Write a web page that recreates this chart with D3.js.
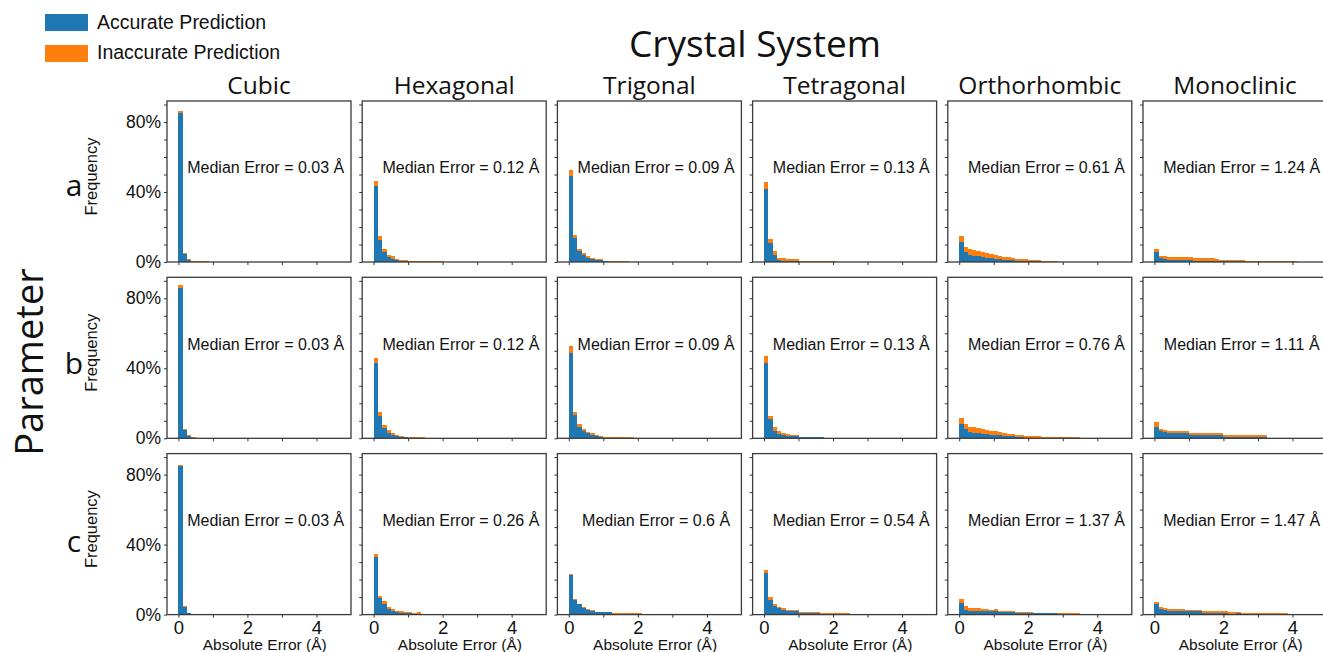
<!DOCTYPE html>
<html>
<head>
<meta charset="utf-8">
<script src="https://cdn.jsdelivr.net/npm/d3@7"></script>
<style>
  body { margin: 0; background: #fff; overflow: hidden; }
  svg { display: block; }
</style>
</head>
<body>
<svg id="chart" width="1323" height="652"></svg>
<script>
// categories
const systems = ["Cubic", "Hexagonal", "Trigonal", "Tetragonal", "Orthorhombic", "Monoclinic"];
const params = ["a", "b", "c"];
const legendLabels = ["Accurate Prediction", "Inaccurate Prediction"];

// median error per panel (Å)
const medianA = ["0.03", "0.12", "0.09", "0.13", "0.61", "1.24"];
const medianB = ["0.03", "0.12", "0.09", "0.13", "0.76", "1.11"];
const medianC = ["0.03", "0.26", "0.6", "0.54", "1.37", "1.47"];

// histogram bins start at 0, width in Å
const binWidth = 0.125;

// frequency (%) per bin, one list per crystal system — parameter a
const accurateA = [
  [85, 4.6, 1.0, 0.1, 0.1, 0.05, 0.05],
  [43.2, 12.6, 6.0, 3.0, 2.0, 1.0, 0.6, 0.4, 0.2, 0.2, 0.1, 0.1, 0.1, 0.05, 0.05, 0.05],
  [49, 13.7, 6.3, 4.0, 2.5, 1.7, 1.0, 0.9, 0.3, 0.2, 0.1, 0.1, 0.1, 0.1],
  [41.5, 10.8, 4.0, 1.2, 0.8, 0.4, 0.4, 0.4, 0.1, 0.1, 0.1, 0.1, 0.1, 0.1, 0.1, 0.1, 0.1],
  [11.4, 5.6, 4.2, 3.5, 3.2, 2.8, 2.5, 2.3, 2.0, 1.5, 1.3, 1.2, 0.9, 0.8, 0.7, 0.5, 0.3, 0.3, 0.3, 0.1, 0.1, 0.1, 0.1],
  [5.8, 2.3, 1.7, 1.3, 1.3, 1.3, 1.3, 1.3, 1.3, 0.8, 0.8, 0.8, 0.8, 0.8, 0.6, 0.4, 0.4, 0.4, 0.4, 0.4, 0.4, 0.2, 0.2,
   0.05, 0.05, 0.05, 0.05, 0.05, 0.05, 0.05, 0.05, 0.05, 0.05]
];
const inaccurateA = [
  [1.3, 0.6, 0.5, 0.3, 0.3, 0.3, 0.3],
  [2.9, 2.2, 1.5, 1.2, 1.2, 1.0, 0.8, 0.8, 0.6, 0.6, 0.5, 0.5, 0.5, 0.4, 0.4, 0.4],
  [3.4, 1.5, 1.4, 1.0, 1.0, 0.8, 0.6, 0.6, 0.5, 0.4, 0.4, 0.4, 0.4, 0.4],
  [4.0, 2.1, 2.3, 1.3, 1.3, 1.1, 1.1, 1.1, 0.5, 0.5, 0.5, 0.5, 0.5, 0.5, 0.5, 0.5, 0.5],
  [3.2, 3.1, 3.3, 3.3, 3.3, 2.8, 2.7, 2.5, 2.2, 2.0, 1.7, 1.6, 1.3, 1.2, 1.3, 1.3, 0.7, 0.7, 0.7, 0.4, 0.4, 0.4, 0.4],
  [1.7, 1.4, 1.6, 1.4, 1.4, 1.4, 1.4, 1.4, 1.4, 1.3, 1.3, 1.3, 1.3, 1.3, 1.1, 0.8, 0.8, 0.8, 0.8, 0.8, 0.8, 0.4, 0.4,
   0.25, 0.25, 0.25, 0.25, 0.25, 0.25, 0.25, 0.25, 0.25, 0.25]
];

// parameter b
const accurateB = [
  [85.8, 5.0, 1.2, 0.3],
  [43, 12.9, 6.0, 3.1, 2.0, 1.2, 0.7, 0.5, 0.4, 0.3, 0.2, 0.2, 0.1, 0.1, 0.05, 0.05, 0.05, 0.05, 0.05, 0.05, 0.05],
  [49, 13.5, 6.5, 4.4, 2.8, 2.0, 1.2, 0.6, 0.4, 0.2, 0.1, 0.1, 0.1, 0.1, 0.1, 0.05, 0.05],
  [43, 10.8, 4.2, 2.7, 1.9, 1.5, 1.1, 1.1, 0.6, 0.6, 0.6, 0.6, 0.6, 0.6, 0.1, 0.1, 0.1, 0.1, 0.1, 0.1, 0.1],
  [8.4, 5.4, 3.8, 3.3, 3.0, 2.6, 2.3, 2.1, 1.8, 1.6, 1.3, 1.2, 1.2, 0.6, 0.6, 0.4, 0.4, 0.4, 0.4, 0.2, 0.2,
   0.1, 0.1, 0.1, 0.1, 0.1, 0.1, 0.1, 0.05, 0.05, 0.05, 0.05],
  [6.5, 4.0, 3.5, 2.9, 2.9, 2.9, 2.9, 2.9, 1.9, 1.9, 1.9, 1.9, 1.9, 1.9, 1.9, 1.9,
   0.7, 0.7, 0.7, 0.7, 0.7, 0.7, 0.7, 0.7, 0.7, 0.7, 0.05, 0.05, 0.05, 0.05, 0.05, 0.05, 0.05, 0.05, 0.05, 0.05, 0.05, 0.05, 0.05, 0.05]
];
const inaccurateB = [
  [1.7, 0.4, 0.4, 0.4, 0.15, 0.15, 0.15, 0.15, 0.15, 0.15, 0.15, 0.15, 0.15, 0.15, 0.15, 0.15, 0.15, 0.15, 0.15, 0.15,
   0.15, 0.15, 0.15, 0.15, 0.15, 0.15, 0.15, 0.15, 0.15, 0.15, 0.15, 0.15, 0.15, 0.15, 0.15, 0.15, 0.15, 0.15, 0.15, 0.15],
  [3.0, 2.3, 1.5, 1.4, 1.2, 0.8, 0.6, 0.5, 0.4, 0.4, 0.4, 0.4, 0.2, 0.2, 0.2, 0.2, 0.2, 0.2, 0.2, 0.2, 0.2,
   0.15, 0.15, 0.15, 0.15, 0.15, 0.15, 0.15, 0.15, 0.15, 0.15, 0.15, 0.15, 0.15, 0.15, 0.15, 0.15, 0.15, 0.15, 0.15],
  [3.5, 1.8, 1.4, 1.0, 1.0, 0.9, 0.7, 0.8, 0.6, 0.5, 0.4, 0.4, 0.4, 0.4, 0.4, 0.4, 0.4, 0.15, 0.4, 0.15,
   0.15, 0.15, 0.15, 0.15, 0.15, 0.15, 0.15, 0.15, 0.15, 0.15, 0.15, 0.15, 0.15, 0.15, 0.15, 0.15, 0.15, 0.15, 0.15, 0.15],
  [4.0, 1.9, 2.1, 1.3, 1.2, 1.2, 0.8, 0.8, 0.4, 0.4, 0.4, 0.4, 0.4, 0.4, 0.3, 0.3, 0.3, 0.3, 0.3, 0.3, 0.3,
   0.15, 0.15, 0.15, 0.15, 0.15, 0.15, 0.15, 0.15, 0.15, 0.15, 0.15, 0.15, 0.15, 0.15, 0.15, 0.15, 0.15, 0.15, 0.15],
  [3.3, 2.5, 2.7, 2.9, 2.8, 2.6, 2.5, 2.1, 2.1, 1.9, 1.8, 1.5, 1.3, 1.2, 1.2, 0.9, 0.9, 0.9, 0.9, 0.7, 0.7,
   0.4, 0.4, 0.4, 0.4, 0.4, 0.4, 0.4, 0.25, 0.25, 0.25, 0.25, 0.15, 0.15, 0.15, 0.15, 0.15, 0.15, 0.15, 0.15],
  [2.7, 1.5, 1.5, 1.3, 1.3, 1.3, 1.3, 1.3, 1.3, 1.3, 1.3, 1.3, 1.3, 1.3, 1.3, 1.3,
   0.9, 0.9, 0.9, 0.9, 0.9, 0.9, 0.9, 0.9, 0.9, 0.9, 0.2, 0.2, 0.2, 0.2, 0.2, 0.2, 0.2, 0.2, 0.2, 0.2, 0.2, 0.2, 0.2, 0.2]
];

// parameter c
const accurateC = [
  [84.8, 4.4, 0.8, 0.05, 0.05],
  [33, 9.5, 6.0, 3.0, 2.0, 1.5, 1.1, 0.8, 0.8, 0.6, 0.4, 0.3, 0.2, 0.2, 0.2, 0.2, 0.2, 0.2],
  [22.5, 8.6, 6.0, 3.6, 2.5, 1.9, 1.3, 1.3, 1.3, 1.3, 0.4, 0.4, 0.4, 0.4, 0.4, 0.4, 0.4],
  [24, 8.6, 5.2, 3.6, 2.9, 1.9, 1.9, 1.9, 1.0, 1.0, 1.0, 1.0, 1.0, 0.6, 0.6, 0.6, 0.6, 0.6, 0.6, 0.6],
  [6.5, 2.7, 2.3, 2.1, 2.1, 1.9, 1.9, 1.9, 1.9, 1.3, 1.3, 1.3, 1.3, 1.1, 1.1, 1.1, 1.1,
   0.8, 0.8, 0.8, 0.8, 0.8, 0.8, 0.5, 0.5, 0.5, 0.5, 0.5, 0.05, 0.05, 0.05, 0.05, 0.05, 0.05, 0.05, 0.05, 0.05, 0.05, 0.05, 0.05],
  [5.8, 3.3, 2.7, 2.2, 2.2, 2.2, 2.2, 1.9, 1.9, 1.9, 1.9, 1.0, 1.0, 1.0, 1.0, 1.0, 1.0, 0.6, 0.6, 0.8,
   0.2, 0.2, 0.2, 0.2, 0.2, 0.2, 0.2, 0.2, 0.2, 0.2, 0.2, 0.05, 0.05, 0.05, 0.05, 0.05, 0.05, 0.05, 0.05, 0.05]
];
const inaccurateC = [
  [0.6, 0.4, 0.3, 0.4, 0.4, 0.15, 0.5, 0.15, 0.15, 0.15, 0.15, 0.15, 0.15, 0.15, 0.15, 0.15, 0.15, 0.15, 0.15, 0.15,
   0.15, 0.15, 0.15, 0.15, 0.15, 0.15, 0.15, 0.15, 0.15, 0.15, 0.15, 0.15, 0.15, 0.15, 0.15, 0.15, 0.15, 0.15, 0.15, 0.15],
  [1.5, 1.1, 1.8, 1.2, 1.0, 0.8, 0.7, 0.6, 0.5, 0.4, 0.9, 0.3, 0.2, 0.2, 0.2, 0.2, 0.2, 0.2,
   0.15, 0.15, 0.15, 0.15, 0.15, 0.15, 0.15, 0.15, 0.15, 0.15, 0.15, 0.15, 0.15, 0.15, 0.15, 0.15, 0.15, 0.15, 0.15, 0.15, 0.15, 0.15],
  [0.5, 0.6, 0.3, 0.6, 0.8, 0.6, 0.2, 0.2, 0.2, 0.2, 0.4, 0.4, 0.4, 0.4, 0.4, 0.4, 0.4, 0.15, 0.6, 0.15,
   0.15, 0.15, 0.15, 0.15, 0.15, 0.15, 0.15, 0.15, 0.15, 0.15, 0.15, 0.15, 0.15, 0.15, 0.15, 0.15, 0.15, 0.15, 0.15, 0.15],
  [1.3, 1.2, 0.8, 1.0, 0.7, 1.0, 1.0, 1.0, 0.5, 0.5, 0.5, 0.5, 0.5, 0.2, 0.2, 0.2, 0.2, 0.2, 0.2, 0.2,
   0.15, 0.6, 0.15, 0.15, 0.15, 0.15, 0.15, 0.15, 0.15, 0.15, 0.15, 0.15, 0.15, 0.15, 0.15, 0.15, 0.15, 0.15, 0.15, 0.15],
  [2.3, 2.5, 1.5, 1.4, 1.4, 1.2, 1.2, 0.8, 1.2, 1.0, 1.0, 1.0, 1.0, 0.6, 0.6, 0.6, 0.6,
   0.3, 0.3, 0.3, 0.3, 0.3, 0.3, 0.5, 0.5, 0.5, 0.5, 0.5, 0.15, 0.15, 0.15, 0.15, 0.15, 0.15, 0.15, 0.15, 0.15, 0.15, 0.15, 0.15],
  [1.3, 0.9, 1.1, 1.0, 1.0, 1.0, 1.0, 1.0, 1.0, 1.0, 1.0, 1.2, 1.2, 1.2, 1.2, 1.2, 1.2, 0.7, 0.7, 0.5,
   0.6, 0.6, 0.6, 0.6, 0.6, 0.6, 0.6, 0.6, 0.6, 0.6, 0.6, 0.15, 0.15, 0.15, 0.15, 0.15, 0.15, 0.15, 0.15, 0.15]
];

// tick values / labels
const yTickValues = [0, 0.1, 0.2, 0.3, 0.4, 0.5, 0.6, 0.7, 0.8, 0.9];
const yTickLabels = [0, 0.4, 0.8];
const xTickValues = [0, 1, 2, 3, 4];
const xTickLabels = [0, 2, 4];

const accurate = [accurateA, accurateB, accurateC];
const inaccurate = [inaccurateA, inaccurateB, inaccurateC];
const medians = [medianA, medianB, medianC];

const blue = '#1f77b4';
const orange = '#ff7f0e';
const sansFont = '"Liberation Sans", Arial, sans-serif';
const titleFont = '"Open Sans", sans-serif';

const panelW = 184, panelH = 161;
const left0 = 167, top0 = 101, stepX = 195.2, stepY = 176.3;

const svg = d3.select('#chart');

const x = d3.scaleLinear().domain([-0.33, 5]).range([0, panelW]);
const y = d3.scaleLinear().domain([0, 0.92]).range([panelH, 0]);

params.forEach((p, r) => {
  systems.forEach((sys, c) => {
    const g = svg.append('g')
      .attr('transform', `translate(${left0 + c * stepX},${top0 + r * stepY})`);

    const acc = accurate[r][c];
    const ina = inaccurate[r][c];
    const bins = d3.range(Math.max(acc.length, ina.length)).map(i => ({
      x0: i * binWidth,
      acc: (acc[i] || 0) / 100,
      ina: (ina[i] || 0) / 100
    }));

    g.selectAll('.acc')
      .data(bins)
      .enter()
      .append('rect')
        .attr('class', 'acc')
        .attr('x', d => x(d.x0))
        .attr('width', x(binWidth) - x(0))
        .attr('y', d => y(d.acc))
        .attr('height', d => panelH - y(d.acc))
        .attr('fill', blue)
        .attr('shape-rendering', 'crispEdges');

    g.selectAll('.ina')
      .data(bins)
      .enter()
      .append('rect')
        .attr('class', 'ina')
        .attr('x', d => x(d.x0))
        .attr('width', x(binWidth) - x(0))
        .attr('y', d => y(d.acc + d.ina))
        .attr('height', d => y(d.acc) - y(d.acc + d.ina))
        .attr('fill', orange)
        .attr('shape-rendering', 'crispEdges');

    // y axis
    const yAxis = g.append('g')
      .call(d3.axisLeft(y)
        .tickValues(yTickValues)
        .tickSize(3)
        .tickPadding(3)
        .tickFormat(d => (c === 0 && yTickLabels.some(t => Math.abs(t - d) < 1e-9)) ? d3.format('.0%')(d) : ''));
    yAxis.select('.domain').remove();
    yAxis.selectAll('line').attr('stroke', '#333');
    yAxis.selectAll('text')
      .style('font-family', sansFont)
      .style('font-size', '17.5px')
      .attr('fill', '#111');

    // x axis
    const xAxis = g.append('g')
      .attr('transform', `translate(0,${panelH})`)
      .call(d3.axisBottom(x)
        .tickValues(xTickValues)
        .tickSize(3)
        .tickPadding(3)
        .tickFormat(d => (r === 2 && xTickLabels.includes(d)) ? d : ''));
    xAxis.select('.domain').remove();
    xAxis.selectAll('line').attr('stroke', '#333');
    xAxis.selectAll('text')
      .style('font-family', sansFont)
      .style('font-size', '18.5px')
      .attr('fill', '#111');

    // frame
    g.append('rect')
      .attr('width', panelW)
      .attr('height', panelH)
      .attr('fill', 'none')
      .attr('stroke', '#3a3a3a')
      .attr('stroke-width', 1.3);

    g.append('text')
      .attr('x', x(2.5) + 1)
      .attr('y', y(0.507))
      .attr('text-anchor', 'middle')
      .style('font-family', sansFont)
      .style('font-size', '16px')
      .attr('fill', '#111')
      .text(`Median Error = ${medians[r][c]} Å`);

    if (r === 2) {
      g.append('text')
        .attr('x', x(2.5))
        .attr('y', panelH + 35)
        .attr('text-anchor', 'middle')
        .style('font-family', sansFont)
        .style('font-size', '15.5px')
        .attr('fill', '#111')
        .text('Absolute Error (Å)');
    }

    if (r === 0) {
      g.append('text')
        .attr('x', panelW / 2)
        .attr('y', -7)
        .attr('text-anchor', 'middle')
        .style('font-family', titleFont)
        .style('font-size', '24.5px')
        .attr('fill', '#111')
        .text(sys);
    }
  });

  const cy = top0 + r * stepY + panelH / 2;

  svg.append('text')
    .attr('x', 74)
    .attr('y', cy + 14 + r * 2)
    .attr('text-anchor', 'middle')
    .style('font-family', titleFont)
    .style('font-size', '30px')
    .attr('fill', '#111')
    .text(p);

  svg.append('text')
    .attr('transform', `translate(97,${cy - 5}) rotate(-90)`)
    .attr('text-anchor', 'middle')
    .style('font-family', sansFont)
    .style('font-size', '16.5px')
    .attr('fill', '#111')
    .text('Frequency');
});

svg.append('text')
  .attr('x', 755)
  .attr('y', 57)
  .attr('text-anchor', 'middle')
  .style('font-family', titleFont)
  .style('font-size', '37px')
  .attr('fill', '#111')
  .text('Crystal System');

svg.append('text')
  .attr('transform', 'translate(43,362) rotate(-90)')
  .attr('text-anchor', 'middle')
  .style('font-family', titleFont)
  .style('font-size', '38px')
  .attr('fill', '#111')
  .text('Parameter');

// legend
const legend = svg.append('g');
legendLabels.forEach((label, i) => {
  legend.append('rect')
    .attr('x', 45)
    .attr('y', 14 + i * 31)
    .attr('width', 43)
    .attr('height', 17)
    .attr('fill', i === 0 ? blue : orange);
  legend.append('text')
    .attr('x', 97)
    .attr('y', 28.5 + i * 30)
    .style('font-family', sansFont)
    .style('font-size', '19.5px')
    .attr('fill', '#111')
    .text(label);
});
</script>
</body>
</html>
